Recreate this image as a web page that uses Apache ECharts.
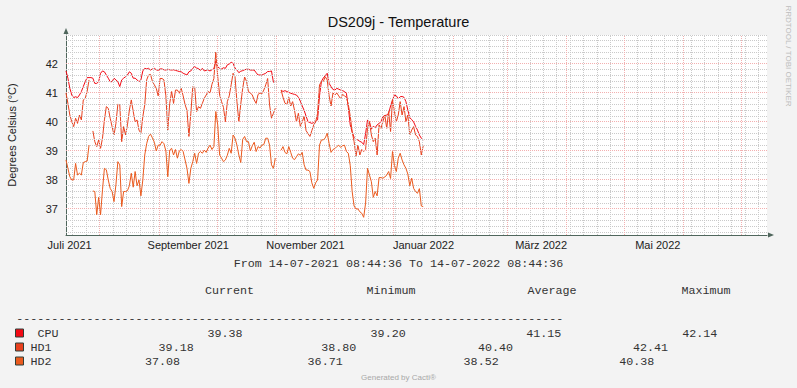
<!DOCTYPE html>
<html>
<head>
<meta charset="utf-8">
<script src="https://cdn.jsdelivr.net/npm/echarts@6/dist/echarts.min.js"></script>
<style>
html,body{margin:0;padding:0;background:#f3f3f3;}
#c{width:797px;height:388px;}
</style>
</head>
<body>
<div id="c"></div>
<script>
// ---------- data ----------
const chartTitle = 'DS209j - Temperature';
const yAxisName = 'Degrees Celsius (°C)';
const startTime = Date.UTC(2021, 6, 14, 8, 44, 36);
const endTime = Date.UTC(2022, 6, 14, 8, 44, 36);
const stepMs = 86400000; // one sample per day

const cpu = [
41.76,41.51,41.16,40.93,40.84,40.87,40.84,40.93,41.05,41.22,
41.39,41.53,41.53,41.53,41.51,41.33,41.33,41.39,41.68,41.76,
41.73,41.62,41.51,41.39,41.39,41.51,41.45,41.39,41.22,41.45,
41.51,41.56,41.62,41.73,41.68,41.51,41.51,41.45,41.39,41.45,
41.76,41.85,41.83,41.85,41.79,41.83,41.85,41.80,41.78,41.83,
41.83,41.80,41.79,41.82,41.80,41.79,41.80,41.78,41.76,41.74,
41.73,41.68,41.65,41.62,41.73,41.76,41.85,41.91,41.86,41.84,
41.78,41.85,41.76,41.78,41.79,41.76,41.80,41.84,42.10,41.90,
41.85,41.83,41.87,41.85,41.97,42.00,42.06,42.02,41.86,41.79,
41.70,41.75,41.77,41.80,41.82,41.82,41.79,41.79,41.79,41.70,
41.62,41.62,41.62,41.65,41.68,41.74,41.74,41.76,41.37,41.39,
null,null,41.10,41.05,41.08,41.05,41.02,40.99,40.97,40.95,
40.93,40.85,40.72,40.55,40.40,40.20,40.01,39.98,39.95,39.98,
40.01,40.07,40.90,41.40,41.52,41.60,41.68,41.33,41.22,41.12,
41.10,41.16,41.13,41.10,41.08,41.05,40.99,40.50,39.90,39.65,
39.47,39.40,39.38,39.33,39.30,39.22,39.60,40.07,40.00,39.75,
39.85,39.80,39.90,39.95,40.01,40.18,40.22,40.24,40.30,40.55,
40.76,40.93,40.90,40.80,40.87,40.88,40.85,40.70,40.41,40.15,
40.08,40.00,39.85,39.72,39.55,39.44,39.38
];
const hd1 = [
41.00,40.64,40.24,40.01,39.84,40.13,39.95,40.24,40.07,40.76,
40.82,41.05,41.45,null,39.69,39.32,39.15,39.38,39.09,39.44,
40.07,40.53,40.47,40.13,39.84,39.55,39.95,40.61,40.59,39.32,
39.84,39.55,39.90,40.41,40.76,40.36,40.01,40.07,39.72,39.61,
40.18,40.59,41.45,41.62,41.64,41.40,41.28,41.16,40.90,41.50,
41.50,41.45,40.90,39.72,40.64,41.05,40.64,41.10,41.10,40.99,
41.16,40.90,40.60,40.40,39.50,40.30,41.22,41.20,40.36,40.53,
40.47,40.64,40.82,40.93,41.05,41.00,41.30,41.50,42.41,41.56,
40.93,40.70,40.50,40.01,40.70,40.90,41.28,41.68,41.56,40.70,
40.01,40.62,41.16,41.55,41.40,41.05,41.00,40.93,40.76,40.64,
40.95,41.00,40.97,41.10,41.28,41.50,40.59,40.13,40.30,40.47,
null,null,41.10,40.85,40.65,40.60,40.85,40.55,40.70,40.40,
40.00,40.30,39.85,40.00,40.20,39.70,39.60,39.50,39.70,39.90,
40.00,40.30,41.28,41.39,41.40,41.56,41.45,40.90,40.55,41.00,
40.93,41.00,40.90,40.80,40.95,40.90,40.85,40.60,40.20,39.67,
39.32,38.83,39.20,38.86,39.05,38.98,39.05,39.78,40.01,39.55,
39.32,39.44,38.86,39.90,39.78,40.01,40.24,39.78,40.36,39.67,
40.76,40.36,40.01,40.24,40.70,40.24,40.53,40.01,40.24,39.55,
39.72,39.84,39.55,39.50,39.32,38.86,39.18
];
const hd2 = [
38.69,38.40,38.11,38.00,38.00,38.57,38.17,38.23,38.17,38.60,
38.63,38.65,39.20,null,37.62,37.60,36.80,37.40,36.80,37.66,
38.40,38.35,38.00,37.71,37.60,37.25,37.83,38.63,38.52,37.08,
37.60,37.60,37.63,37.80,38.23,37.75,38.29,37.80,38.00,37.45,
38.00,38.86,39.25,39.50,39.58,39.45,39.30,39.00,39.20,39.20,
39.32,39.25,39.00,38.11,39.03,39.09,38.86,39.05,38.75,39.00,
39.05,38.98,38.69,38.40,37.88,38.40,38.63,38.92,38.57,38.92,
38.98,38.92,39.03,38.95,39.10,39.20,39.05,39.15,40.36,39.90,
38.86,38.75,38.63,38.69,38.85,39.09,38.92,39.55,39.44,39.20,
38.86,38.60,39.40,39.50,39.32,39.32,39.00,39.18,39.30,38.98,
39.15,39.10,39.20,39.22,39.44,39.44,39.20,38.52,38.40,38.75,
null,null,39.03,39.15,38.95,38.90,39.15,38.95,38.75,38.70,
38.80,38.90,38.85,38.95,38.52,38.34,38.34,38.29,37.90,37.71,
37.90,38.00,39.20,39.38,39.38,39.45,39.61,39.26,38.95,39.05,
39.08,39.15,39.20,39.12,39.18,39.20,38.98,38.92,38.50,37.60,
37.10,37.00,37.00,36.90,36.85,36.71,37.20,38.40,38.17,37.94,
37.40,37.60,37.45,38.08,38.08,38.06,38.10,38.17,38.29,38.05,
38.98,38.50,38.29,38.75,38.92,38.69,38.52,38.40,38.20,37.80,
38.06,37.71,37.60,37.54,37.70,37.10,37.08
];

const seriesNames = ['CPU', 'HD1', 'HD2'];
const yTicks = [37, 38, 39, 40, 41, 42];
const xTickLabels = ['Juli 2021', 'September 2021', 'November 2021', 'Januar 2022', 'März 2022', 'Mai 2022'];
const xTickTimes = [
  Date.UTC(2021, 6, 16, 6), Date.UTC(2021, 8, 16), Date.UTC(2021, 10, 16),
  Date.UTC(2022, 0, 16, 12), Date.UTC(2022, 2, 18, 18), Date.UTC(2022, 4, 18, 12)
];
const statHeaders = ['Current', 'Minimum', 'Average', 'Maximum'];
const statCurrent = ['39.38', '39.18', '37.08'];
const statMinimum = ['39.20', '38.80', '36.71'];
const statAverage = ['41.15', '40.40', '38.52'];
const statMaximum = ['42.14', '42.41', '40.38'];
const periodText = 'From 14-07-2021 08:44:36 To 14-07-2022 08:44:36';

// ---------- styling / layout ----------
const colors = ['#F20A14', '#E8401E', '#EA5A1E'];
const axisColor = '#4f665c';
const sans = 'Liberation Sans, Arial, sans-serif';
const mono = 'Liberation Mono, Courier New, monospace';
const yMin = 36.1, yMax = 43.0;
const minorColor = '#cacaca';
const majorColor = '#f3b0b0';

// grid lines (vertical: weeks starting Sunday + month starts; horizontal: 0.2 / 1.0)
const gridLines = [];
const monthLines = [];
for (let y = 2021, m = 7; ; m++) {
  if (m > 11) { m = 0; y++; }
  const t = Date.UTC(y, m, 1);
  if (t > endTime) break;
  monthLines.push(t);
}
for (let t = Date.UTC(2021, 6, 18); t < endTime; t += 7 * 86400000) {
  if (monthLines.indexOf(t) < 0) gridLines.push({ xAxis: t, lineStyle: { color: minorColor, width: 1, type: [1, 1] } });
}
for (let k = 181; k <= 215; k++) {
  const v = k / 5;
  if (k % 5 === 0 && k < 215) continue;
  gridLines.push({ yAxis: v, lineStyle: { color: minorColor, width: 1, type: [1, 1] } });
}
monthLines.forEach(t => gridLines.push({ xAxis: t, lineStyle: { color: majorColor, width: 1, type: [1, 1] } }));
yTicks.forEach(v => gridLines.push({ yAxis: v, lineStyle: { color: majorColor, width: 1, type: [1, 1] } }));

const toPairs = arr => arr.map((v, i) => [startTime + i * stepMs, v]);
const allSeries = [cpu, hd1, hd2];

// ---------- graphics (legend table etc.) ----------
const graphics = [];
function txt(x, y, text, opt) {
  graphics.push({
    type: 'text', x: x, y: y, silent: true,
    style: Object.assign({ text: text, font: '11.7px ' + mono, fill: '#333', textAlign: 'left', textVerticalAlign: 'middle' }, opt || {})
  });
}
txt(398.5, 263.5, periodText, { textAlign: 'center' });
const headerX = [205, 366.5, 527.5, 681.5];
statHeaders.forEach((h, i) => txt(headerX[i], 291, h));
txt(16.3, 318.5, '-'.repeat(78));
const rowY = [333.5, 347.5, 361.5];
const nameX = [37.5, 30.5, 30.5];
const colX = [
  [207.4, 370.6, 526.2, 682.3],
  [158.6, 321.3, 477.9, 633.0],
  [144.9, 307.6, 463.6, 619.2]
];
seriesNames.forEach((n, r) => {
  graphics.push({ type: 'rect', silent: true, shape: { x: 15.5, y: rowY[r] - 4.5, width: 8, height: 8 },
    style: { fill: colors[r], stroke: '#2e3f38', lineWidth: 1 } });
  txt(nameX[r], rowY[r], n);
  [statCurrent, statMinimum, statAverage, statMaximum].forEach((arr, c) => txt(colX[r][c], rowY[r], arr[r]));
});
graphics.push({ type: 'text', x: 398.5, y: 377.5, silent: true,
  style: { text: 'Generated by Cacti®', font: '8px ' + sans, fill: '#a8a8a8', textAlign: 'center', textVerticalAlign: 'middle' } });
graphics.push({ type: 'text', x: 788.5, y: 56, rotation: -Math.PI / 2, silent: true,
  style: { text: 'RRDTOOL / TOBI OETIKER', font: '8px ' + sans, fill: '#bdbdbd', textAlign: 'center', textVerticalAlign: 'middle' } });

// ---------- chart ----------
const chart = echarts.init(document.getElementById('c'), null, { renderer: 'svg' });
const option = {
  animation: false,
  backgroundColor: '#f3f3f3',
  title: {
    text: chartTitle, left: 'center', top: 14.5, padding: 0,
    textStyle: { fontFamily: sans, fontSize: 14.5, fontWeight: 'normal', color: '#111' }
  },
  grid: { left: 66, top: 35, width: 701, height: 200, show: true, backgroundColor: '#ffffff', borderWidth: 0,
    containLabel: false, outerBoundsMode: 'none' },
  xAxis: {
    type: 'value', min: startTime, max: endTime,
    axisLine: { show: true, onZero: false, lineStyle: { color: axisColor, width: 1 },
      symbol: ['none', 'triangle'], symbolSize: [5, 6], symbolOffset: [0, 4] },
    axisTick: { show: false },
    splitLine: { show: false },
    axisLabel: {
      customValues: xTickTimes,
      formatter: v => { const i = xTickTimes.indexOf(v); return i >= 0 ? xTickLabels[i] : ''; },
      margin: 4, color: '#222', fontFamily: sans, fontSize: 11, hideOverlap: false
    }
  },
  yAxis: {
    type: 'value', min: yMin, max: yMax,
    name: yAxisName, nameLocation: 'middle', nameRotate: 90, nameGap: 49,
    nameTextStyle: { fontFamily: sans, fontSize: 11, color: '#222' },
    axisLine: { show: true, onZero: false, lineStyle: { color: axisColor, width: 1 },
      symbol: ['none', 'triangle'], symbolSize: [5, 6], symbolOffset: [0, 4] },
    axisTick: { show: false },
    splitLine: { show: false },
    axisLabel: {
      customValues: yTicks,
      formatter: v => String(Math.round(v)),
      margin: 8, color: '#222', fontFamily: sans, fontSize: 11
    }
  },
  series: [
    {
      type: 'line', name: 'grid', data: [], silent: true, z: 1,
      markLine: { silent: true, symbol: ['none', 'none'], label: { show: false }, animation: false,
        emphasis: { disabled: true }, data: gridLines }
    }
  ].concat(allSeries.map((arr, i) => ({
    type: 'line', name: seriesNames[i], data: toPairs(arr), z: 3 + i,
    showSymbol: false, symbol: 'none', connectNulls: false, silent: true,
    lineStyle: { width: 1, color: colors[i] }, emphasis: { disabled: true }
  }))),
  graphic: graphics
};
chart.setOption(option);

// snap grid lines onto pixel centres (values mapped back through the axis scales)
const snapped = gridLines.map(g => {
  const c = Object.assign({}, g);
  if (g.xAxis != null) {
    const px = chart.convertToPixel({ xAxisIndex: 0 }, g.xAxis);
    c.xAxis = chart.convertFromPixel({ xAxisIndex: 0 }, Math.floor(px) + 0.5);
  } else {
    const py = chart.convertToPixel({ yAxisIndex: 0 }, g.yAxis);
    c.yAxis = chart.convertFromPixel({ yAxisIndex: 0 }, Math.floor(py) + 0.5);
  }
  return c;
});
chart.setOption({ series: [{ name: 'grid', markLine: { data: snapped } }] });
</script>
</body>
</html>
